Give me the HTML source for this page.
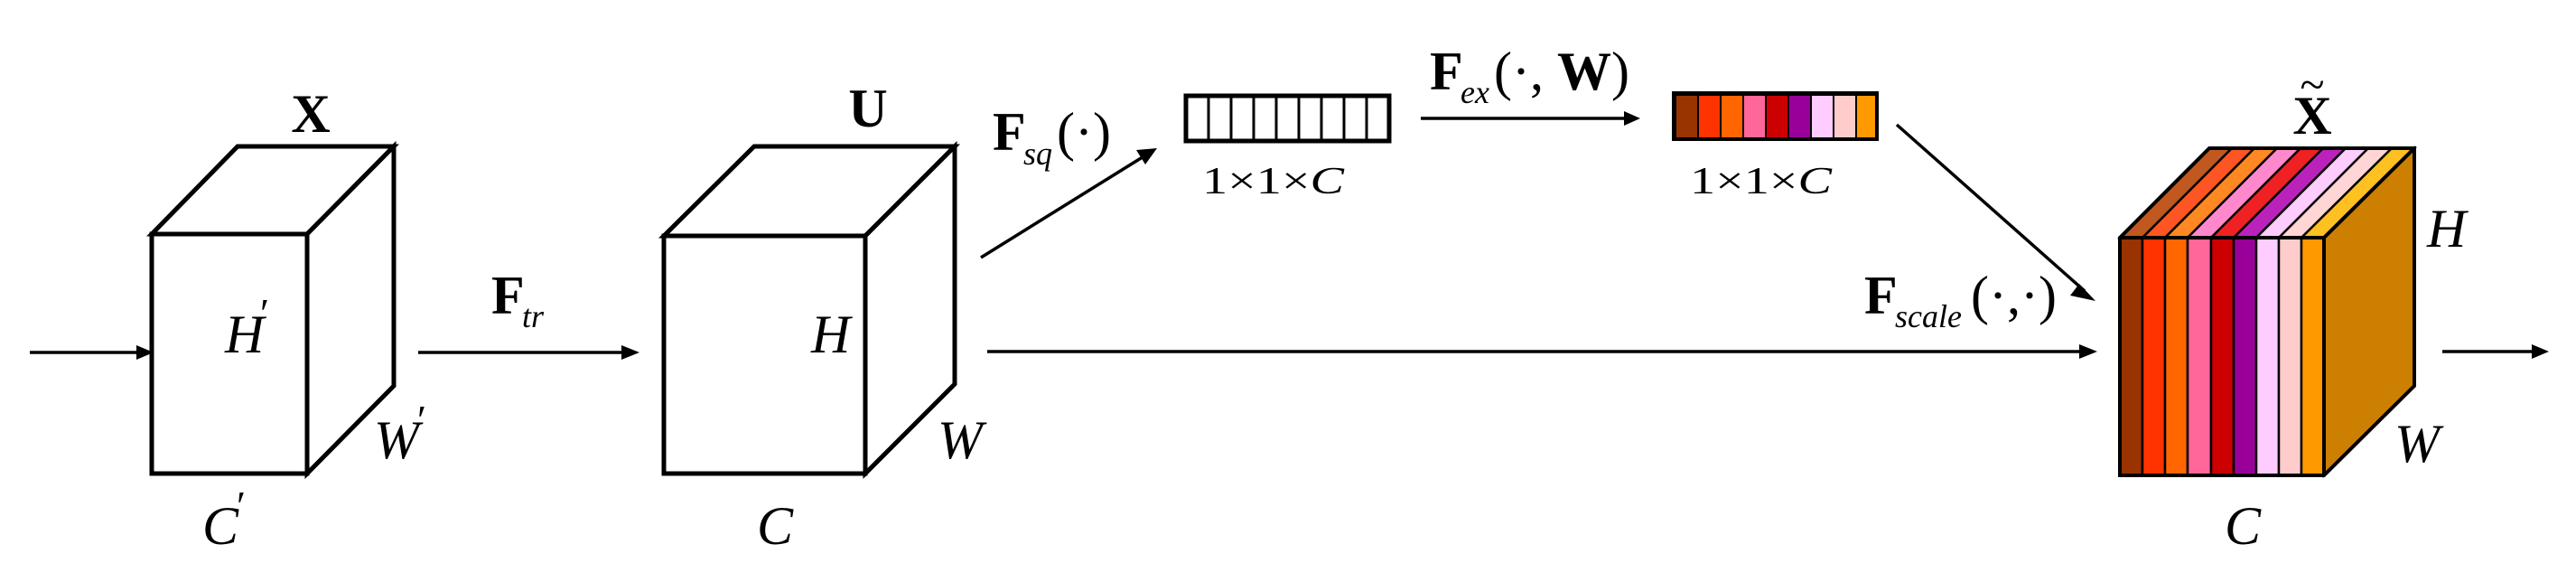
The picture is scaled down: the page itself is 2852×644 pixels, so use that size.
<!DOCTYPE html>
<html><head><style>
html,body{margin:0;padding:0;background:#fff;}
svg{display:block;}
text{font-family:"Liberation Serif","DejaVu Serif",serif;fill:#000;}
.i{font-style:italic;}
.b{font-weight:bold;}
</style></head><body>
<svg width="2852" height="644" viewBox="0 0 2852 644" xmlns="http://www.w3.org/2000/svg">
<g stroke="#000" stroke-width="3.5" fill="none">
<line x1="33" y1="390" x2="151" y2="390"/>
<polygon points="151,382 151,398 170,390" fill="#000" stroke="none"/>
<line x1="463" y1="390" x2="690" y2="390"/>
<polygon points="688,382 688,398 708,390" fill="#000" stroke="none"/>
<line x1="1093" y1="389" x2="2305" y2="389"/>
<polygon points="2302,381 2302,397 2322,389" fill="#000" stroke="none"/>
<line x1="2704" y1="389" x2="2805" y2="389"/>
<polygon points="2803,381 2803,397 2822,389" fill="#000" stroke="none"/>
<line x1="1573" y1="131" x2="1800" y2="131"/>
<polygon points="1798,123 1798,139 1816,131" fill="#000" stroke="none"/>
<line x1="1086" y1="285" x2="1268" y2="172"/>
<polygon points="1281,164 1258,166 1268,182" fill="#000" stroke="none"/>
<line x1="2100" y1="138" x2="2308" y2="322"/>
<polygon points="2320,333 2302,314 2292,327" fill="#000" stroke="none"/>
</g>
<g stroke="#000" stroke-width="5" fill="#fff" stroke-linejoin="miter">
<polygon points="168,259 263,162 436,162 340,259"/>
<polygon points="340,259 436,162 436,427 340,524"/>
<rect x="168" y="259" width="172" height="265"/>
<polygon points="735,261 835,162 1057,162 958,261"/>
<polygon points="958,261 1057,162 1057,425 958,524"/>
<rect x="735" y="261" width="223" height="263"/>
</g>
<g stroke="#000" stroke-width="3">
<rect x="1313" y="106" width="225" height="50" fill="#fff" stroke-width="5"/>
<line x1="1338" y1="106" x2="1338" y2="156"/><line x1="1363" y1="106" x2="1363" y2="156"/>
<line x1="1388" y1="106" x2="1388" y2="156"/><line x1="1413" y1="106" x2="1413" y2="156"/>
<line x1="1438" y1="106" x2="1438" y2="156"/><line x1="1463" y1="106" x2="1463" y2="156"/>
<line x1="1488" y1="106" x2="1488" y2="156"/><line x1="1513" y1="106" x2="1513" y2="156"/>
</g>
<g stroke="#000" stroke-width="2">
<rect x="1855" y="105" width="25" height="48" fill="#993300"/>
<rect x="1880" y="105" width="25" height="48" fill="#FF3300"/>
<rect x="1905" y="105" width="25" height="48" fill="#FF6600"/>
<rect x="1930" y="105" width="25" height="48" fill="#FF6699"/>
<rect x="1955" y="105" width="25" height="48" fill="#CC0000"/>
<rect x="1980" y="105" width="25" height="48" fill="#990099"/>
<rect x="2005" y="105" width="25" height="48" fill="#FFCCFF"/>
<rect x="2030" y="105" width="25" height="48" fill="#FFCCCC"/>
<rect x="2055" y="105" width="23" height="48" fill="#FF9900"/>
<rect x="1853" y="103" width="225" height="51" fill="none" stroke-width="4"/>
</g>
<g stroke="#000" stroke-width="2.5">
<polygon points="2347,263 2446,164 2471,164 2372,263" fill="#C0581F"/>
<polygon points="2372,263 2471,164 2496,164 2397,263" fill="#FF5522"/>
<polygon points="2397,263 2496,164 2521,164 2422,263" fill="#FF8822"/>
<polygon points="2422,263 2521,164 2547,164 2448,263" fill="#FF88CC"/>
<polygon points="2448,263 2547,164 2572,164 2473,263" fill="#EE2222"/>
<polygon points="2473,263 2572,164 2597,164 2498,263" fill="#BB22BB"/>
<polygon points="2498,263 2597,164 2622,164 2523,263" fill="#FFCCFF"/>
<polygon points="2523,263 2622,164 2648,164 2548,263" fill="#FFD5D5"/>
<polygon points="2548,263 2648,164 2673,164 2573,263" fill="#FFC022"/>
<polygon points="2573,263 2673,164 2673,427 2573,526" fill="#CC7F00"/>
<rect x="2347" y="263" width="25" height="263" fill="#993300"/>
<rect x="2372" y="263" width="25" height="263" fill="#FF3300"/>
<rect x="2397" y="263" width="25" height="263" fill="#FF6600"/>
<rect x="2422" y="263" width="26" height="263" fill="#FF6699"/>
<rect x="2448" y="263" width="25" height="263" fill="#CC0000"/>
<rect x="2473" y="263" width="25" height="263" fill="#990099"/>
<rect x="2498" y="263" width="25" height="263" fill="#FFCCFF"/>
<rect x="2523" y="263" width="25" height="263" fill="#FFCCCC"/>
<rect x="2548" y="263" width="25" height="263" fill="#FF9900"/>
</g>
<g stroke="#000" stroke-width="4" fill="none">
<polygon points="2347,263 2446,164 2673,164 2673,427 2573,526 2347,526"/>
<polyline points="2347,263 2573,263 2673,164"/>
<line x1="2573" y1="263" x2="2573" y2="526"/>
</g>
<text x="344" y="146" font-size="60" class="b" text-anchor="middle">X</text>
<text x="249" y="390" font-size="60" class="i">H</text><text x="288" y="362" font-size="46">′</text>
<text x="414" y="507" font-size="60" class="i">W</text><text x="462" y="480" font-size="46">′</text>
<text x="224" y="602" font-size="60" class="i">C</text><text x="262" y="575" font-size="46">′</text>
<text x="544" y="347" font-size="60" class="b">F</text><text x="578" y="362" font-size="36" class="i">tr</text>
<text x="961" y="140" font-size="60" class="b" text-anchor="middle">U</text>
<text x="898" y="390" font-size="60" class="i">H</text>
<text x="1038" y="507" font-size="60" class="i">W</text>
<text x="838" y="602" font-size="60" class="i">C</text>
<text x="1099" y="166" font-size="60" class="b">F</text><text x="1133" y="182" font-size="36" class="i">sq</text><text x="1170" y="166" font-size="60">(·)</text>
<text x="1331" y="214" font-size="42" textLength="157" lengthAdjust="spacingAndGlyphs" style="font-family:'Liberation Serif','DejaVu Serif',serif">1×1×<tspan class="i">C</tspan></text>
<text x="1871" y="214" font-size="42" textLength="157" lengthAdjust="spacingAndGlyphs" style="font-family:'Liberation Serif','DejaVu Serif',serif">1×1×<tspan class="i">C</tspan></text>
<text x="1583" y="99" font-size="60" class="b">F</text><text x="1617" y="114" font-size="36" class="i">ex</text><text x="1654" y="99" font-size="60">(·, <tspan class="b">W</tspan>)</text>
<text x="2064" y="347" font-size="60" class="b">F</text><text x="2098" y="362" font-size="36" class="i">scale</text><text x="2182" y="347" font-size="60">(·,·)</text>
<text x="2560" y="148" font-size="60" class="b" text-anchor="middle">X</text>
<text x="2560" y="110" font-size="50" text-anchor="middle">~</text>
<text x="2687" y="273" font-size="60" class="i">H</text>
<text x="2651" y="511" font-size="60" class="i">W</text>
<text x="2463" y="602" font-size="60" class="i">C</text>
</svg>
</body></html>
